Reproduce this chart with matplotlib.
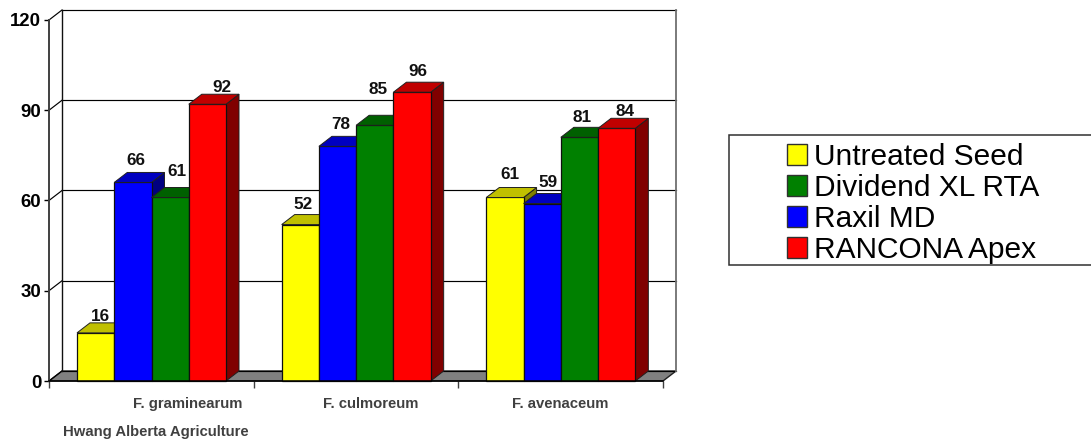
import matplotlib
matplotlib.use("Agg")
import matplotlib.pyplot as plt
from matplotlib.patches import Polygon, Rectangle, Patch

plt.rcParams['font.family'] = ['Liberation Sans', 'DejaVu Sans']

categories = ["F. graminearum", "F. culmoreum", "F. avenaceum"]
series_names = ["Untreated Seed", "Raxil MD", "Dividend XL RTA", "RANCONA Apex"]
untreated = [16, 52, 61]
raxil = [66, 78, 59]
dividend = [61, 85, 81]
rancona = [92, 96, 84]
y_ticks = [0, 30, 60, 90, 120]
source = "Hwang Alberta Agriculture"

front = ["#FFFF00", "#0000FF", "#008000", "#FF0000"]
top = ["#C0C000", "#0000C0", "#006000", "#C00000"]
side = ["#808000", "#000080", "#004000", "#800000"]
legend_order = [0, 2, 1, 3]

# value-label placement, pixels from the top-centre of each bar's front face
label_dx = [[4.4, 3.1, 6.9, 14.6], [2.7, 3.4, 3.2, 5.9], [5.0, 5.8, 2.5, 8.3]]
label_dy = [[16.5, 21.5, 26, 17, 20], [20, 22, 36, 21], [23, 21, 20, 17]]

W, H = 1091, 440
fig = plt.figure(figsize=(W / 100, H / 100), dpi=100, facecolor="white")
ax = fig.add_axes([49 / W, (H - 381) / H, 614 / W, 361 / H])
ax.set_xlim(0, 3)
ax.set_ylim(0, 120)
ax.patch.set_visible(False)

DX = 13 / (614 / 3)
DY = 10 / (361 / 120)
BW = 37.25 / (614 / 3)
START = 28 / (614 / 3)

# floor and back wall
ax.add_patch(Polygon([(0, 0), (DX, DY), (3 + DX, DY), (3, 0)], closed=True,
                     fc="#808080", ec="#202020", lw=1, clip_on=False, zorder=1))
for v in y_ticks:
    ax.plot([DX, 3 + DX], [v + DY, v + DY], color="black", lw=0.85, clip_on=False, zorder=1.5)
    ax.plot([0, DX], [v, v + DY], color="black", lw=0.85, clip_on=False, zorder=1.5)
ax.plot([DX, DX], [DY, 120 + DY], color="#101010", lw=1.0, clip_on=False, zorder=1.5)
ax.plot([3 + DX, 3 + DX], [DY, 120 + DY], color="#707070", lw=1.3, clip_on=False, zorder=1.5)

# bars
z = 2
for g in range(3):
    for s, vals in enumerate([untreated, raxil, dividend, rancona]):
        v = vals[g]
        x0 = g + START + s * BW
        x1 = x0 + BW
        ax.bar(x0, v, width=BW, align="edge", color=front[s], edgecolor="#101010",
               linewidth=0.9, clip_on=False, zorder=z)
        ax.add_patch(Polygon([(x0, v), (x0 + DX, v + DY), (x1 + DX, v + DY), (x1, v)], closed=True,
                             fc=top[s], ec="#202020", lw=0.7, clip_on=False, zorder=z))
        ax.add_patch(Polygon([(x1, 0), (x1 + DX, DY), (x1 + DX, v + DY), (x1, v)], closed=True,
                             fc=side[s], ec="#202020", lw=0.7, clip_on=False, zorder=z - 0.5))
        z += 1
        ax.annotate(str(v), (x0 + BW / 2, v),
                    xytext=(label_dx[g][s] * 0.72, label_dy[g][s] * 0.72), textcoords="offset points",
                    ha="center", va="center", fontsize=12.3, fontweight="bold", color="#111111",
                    zorder=100, annotation_clip=False)

# axes
for name in ("top", "right"):
    ax.spines[name].set_visible(False)
ax.spines["left"].set_color("#404040")
ax.spines["left"].set_linewidth(1.4)
ax.spines["bottom"].set_color("black")
ax.spines["bottom"].set_linewidth(1.1)
ax.spines["bottom"].set_zorder(90)
ax.set_yticks(y_ticks)
ax.set_xticks([0, 1, 2, 3])
ax.set_xticklabels([])
ax.tick_params(axis="y", length=3.5, width=1, pad=2, labelsize=13.4)
ax.tick_params(axis="x", length=5, width=1, color="#404040")
for t in ax.get_yticklabels():
    t.set_fontweight("bold")

for c, px in zip(categories, [188, 371, 560]):
    fig.text(px / W, 1 - 404 / H, c, ha="center", va="center", fontsize=10.7,
             fontweight="bold", color="#404040")
fig.text(63 / W, 1 - 431.5 / H, source, ha="left", va="center", fontsize=10.7,
         fontweight="bold", color="#404040")

# legend
fig.add_artist(Rectangle((729 / W, 1 - 265 / H), 370 / W, 130 / H, transform=fig.transFigure,
                         fc="white", ec="#303030", lw=1.1))
handles = [Patch(facecolor=front[i], edgecolor="#303030", linewidth=1) for i in legend_order]
labels = [series_names[i] for i in legend_order]
leg = fig.legend(handles, labels, loc="center left", bbox_to_anchor=(787 / W, 1 - 203.5 / H),
                 frameon=False, fontsize=21.5, handlelength=0.68, handleheight=0.68,
                 handletextpad=0.22, labelspacing=0.1, borderpad=0, borderaxespad=0)

fig.savefig("out.png", dpi=100, facecolor="white")
